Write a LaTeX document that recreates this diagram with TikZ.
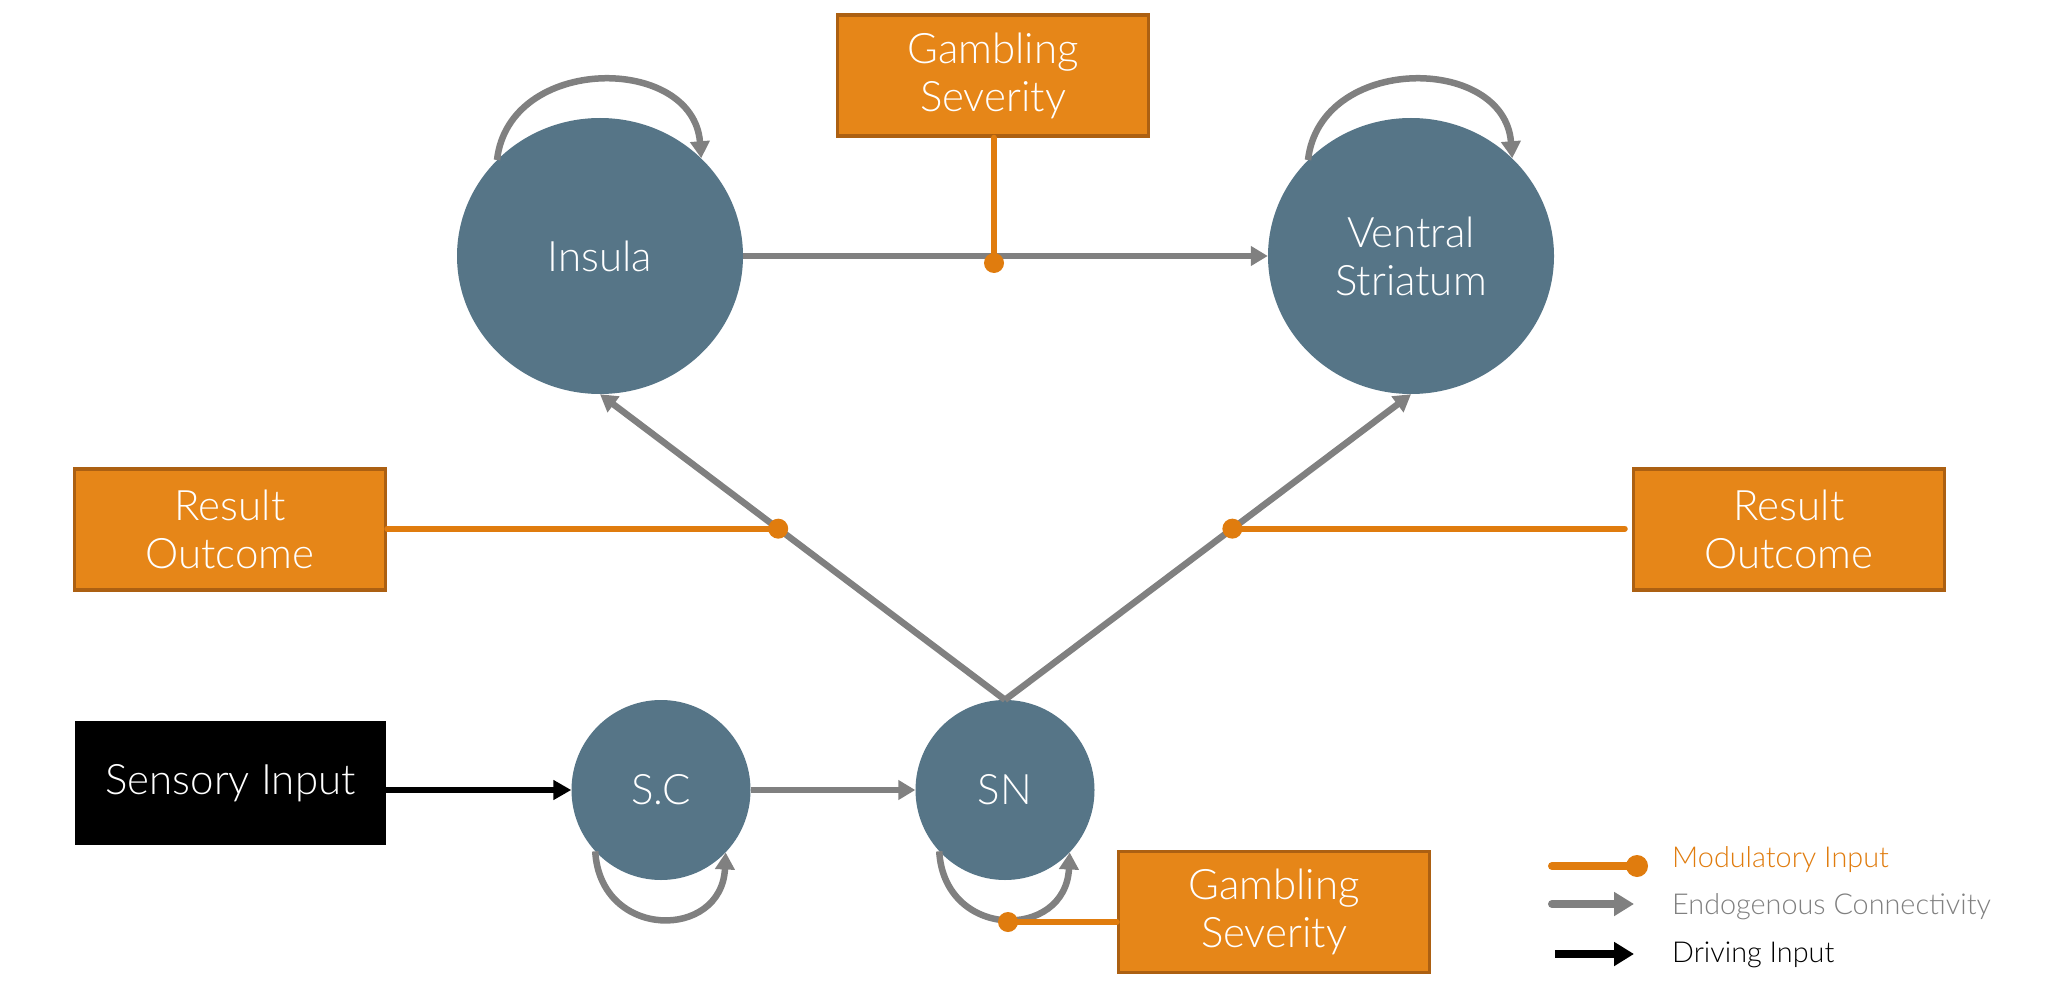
\documentclass[tikz,border=0pt]{standalone}
\usepackage{fontspec}
\setmainfont{Lato Light}
\usetikzlibrary{shapes.geometric,arrows.meta,calc}
\definecolor{nodeblue}{HTML}{567587}
\definecolor{boxorange}{HTML}{E68618}
\definecolor{boxborder}{HTML}{AC6012}
\definecolor{edgegray}{HTML}{808080}
\definecolor{modorange}{HTML}{E07C0E}
\newcommand\bigtxt{\fontsize{42}{48}\selectfont}
\newcommand\legtxt{\fontsize{28.8}{33}\selectfont}
\begin{document}
\begin{tikzpicture}[x=1pt,y=-1pt,
  region/.style={ellipse, fill=nodeblue, text=white, inner sep=0pt, align=center, font=\bigtxt},
  obox/.style={rectangle, draw=boxborder, line width=3.5pt, fill=boxorange, text=white,
    minimum width=311pt, minimum height=121pt, inner sep=0pt, align=center, font=\bigtxt},
  sbox/.style={rectangle, fill=black, text=white, minimum width=311pt, minimum height=124pt,
    inner sep=0pt, font=\bigtxt},
  endo/.style={draw=edgegray, line width=6.5pt, -{Triangle[length=17pt,width=19pt]}},
  drive/.style={draw=black, line width=6pt, -{Triangle[length=18pt,width=19pt]}},
  modu/.style={draw=modorange, line width=6pt, line cap=round},
  mdot/.style={circle, fill=modorange, minimum size=20pt, inner sep=0pt},
  legend/.style={anchor=base west, font=\legtxt, inner sep=0pt}]
\fill[white] (0,0) rectangle (2058,992);
\useasboundingbox (0,0) rectangle (2058,992);

% regions
\node[region, minimum width=286pt, minimum height=276pt] (ins) at (600,256) {Insula};
\node[region, minimum width=286pt, minimum height=276pt] (vs) at (1411,256) {Ventral\\Striatum};
\node[region, minimum width=179pt, minimum height=180pt] (sc) at (661,790) {S.C};
\node[region, minimum width=179pt, minimum height=180pt] (sn) at (1005,790) {SN};

% boxes
\node[obox] (gs1) at (993,75.5) {Gambling\\Severity};
\node[obox] (ro1) at (230,529.5) {Result\\Outcome};
\node[obox] (ro2) at (1789,529.5) {Result\\Outcome};
\node[obox] (gs2) at (1274,912) {Gambling\\Severity};
\node[sbox] (sens) at (230.5,783) {Sensory Input};

% endogenous connections
\draw[endo] (ins.east) -- (vs.west);
\draw[endo] (sc.east) -- (sn.west);
\draw[endo] (sn.north) -- (ins.south);
\draw[endo] (sn.north) -- (vs.south);
\draw[endo] (ins.137) .. controls +(12,-106) and +(-8,-104) .. (ins.44);
\draw[endo] (vs.137) .. controls +(12,-106) and +(-8,-104) .. (vs.44);
\draw[endo] (sc.223) .. controls +(5,89) and +(-4,88) .. (sc.316);
\draw[endo] (sn.223) .. controls +(5,89) and +(-4,88) .. (sn.316);

% driving input
\draw[drive] (sens.east |- sc.west) -- (sc.west);

% modulatory inputs
\node[mdot] (d1) at ($(gs1.south |- ins.east)+(1,7)$) {};
\node[mdot] (d2) at ($(sn.north)!0.56!(ins.south)$) {};
\node[mdot] (d3) at ($(sn.north)!0.56!(vs.south)$) {};
\node[mdot] (d4) at (1008,922) {};
\draw[modu] (d1.center |- gs1.south) -- (d1.center);
\draw[modu] (ro1.east |- d2) -- (d2.center);
\draw[modu] ([xshift=-7pt]ro2.west |- d3) -- (d3.center);
\draw[modu] (gs2.west |- d4) -- (d4.center);

% legend
\coordinate (la1) at (1552,866);
\coordinate (lb1) at (1637,866);
\coordinate (la2) at (1552,904);
\coordinate (lb2) at (1634,904);
\coordinate (la3) at (1555,954);
\coordinate (lb3) at (1634,954);
\draw[modu, line width=8pt] (la1) -- (lb1);
\node[mdot, minimum size=22pt] (ld1) at (lb1) {};
\draw[draw=edgegray, line width=8pt, line cap=round, -{Triangle[length=20pt,width=23pt]}] (la2) -- (lb2);
\draw[draw=black, line width=8pt, -{Triangle[length=20pt,width=23pt]}] (la3) -- (lb3);
\node[legend, text=modorange] (lt1) at (1672,867) {Modulatory Input};
\node[legend, text=edgegray] (lt2) at (1672,914) {Endogenous Connectivity};
\node[legend, text=black] (lt3) at (1672,962) {Driving Input};
\end{tikzpicture}
\end{document}
